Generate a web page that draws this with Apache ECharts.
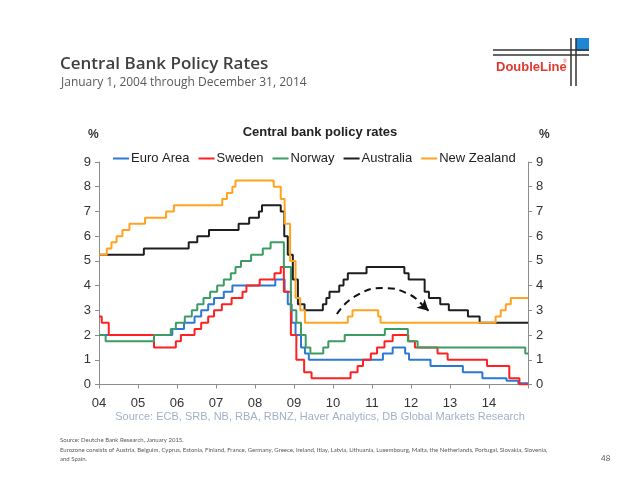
<!DOCTYPE html>
<html><head><meta charset="utf-8">
<script src="https://cdn.jsdelivr.net/npm/echarts@6/dist/echarts.min.js"></script>
<style>html,body{margin:0;padding:0;background:#fff}#c{width:640px;height:495px}</style>
</head><body><div id="c"></div>
<script>
// [date (decimal year) when the rate changed, new policy rate in %]
const euroArea = [[2004.0,2.0],[2005.88,2.25],[2006.18,2.5],[2006.45,2.75],[2006.62,3.0],[2006.8,3.25],[2006.95,3.5],[2007.2,3.75],[2007.42,4.0],[2008.52,4.25],[2008.76,3.75],[2008.84,3.25],[2008.94,2.5],[2009.04,2.0],[2009.18,1.5],[2009.28,1.25],[2009.38,1.0],[2011.28,1.25],[2011.53,1.5],[2011.85,1.25],[2011.95,1.0],[2012.5,0.75],[2013.33,0.5],[2013.83,0.25],[2014.45,0.15],[2014.75,0.05],[2015.0,0.05]];
const sweden = [[2004.0,2.75],[2004.07,2.5],[2004.25,2.0],[2005.41,1.5],[2005.97,1.75],[2006.1,2.0],[2006.45,2.25],[2006.62,2.5],[2006.8,2.75],[2006.95,3.0],[2007.15,3.25],[2007.4,3.5],[2007.68,3.75],[2007.78,4.0],[2008.12,4.25],[2008.5,4.5],[2008.66,4.75],[2008.74,3.75],[2008.92,2.0],[2009.06,1.0],[2009.26,0.5],[2009.45,0.25],[2010.45,0.5],[2010.63,0.75],[2010.77,1.0],[2010.97,1.25],[2011.13,1.5],[2011.32,1.75],[2011.53,2.0],[2011.93,1.75],[2012.1,1.5],[2012.68,1.25],[2012.94,1.0],[2013.95,0.75],[2014.52,0.25],[2014.78,0.0],[2015.0,0.0]];
const norway = [[2004.0,2.0],[2004.17,1.75],[2005.41,2.0],[2005.84,2.25],[2005.97,2.5],[2006.2,2.75],[2006.38,3.0],[2006.52,3.25],[2006.68,3.5],[2006.85,3.75],[2007.03,4.0],[2007.2,4.25],[2007.38,4.5],[2007.5,4.75],[2007.64,5.0],[2007.9,5.25],[2008.2,5.5],[2008.4,5.75],[2008.74,4.75],[2008.92,3.0],[2009.06,2.5],[2009.18,2.0],[2009.3,1.5],[2009.42,1.25],[2009.75,1.5],[2009.88,1.75],[2010.3,2.0],[2011.33,2.25],[2011.92,1.75],[2012.17,1.5],[2014.93,1.25],[2015.0,1.25]];
const australia = [[2004.0,5.25],[2005.15,5.5],[2006.3,5.75],[2006.52,6.0],[2006.82,6.25],[2007.58,6.5],[2007.85,6.75],[2008.1,7.0],[2008.18,7.25],[2008.66,7.0],[2008.75,6.0],[2008.84,5.25],[2008.97,4.25],[2009.1,3.25],[2009.27,3.0],[2009.74,3.25],[2009.83,3.5],[2009.91,3.75],[2010.16,4.0],[2010.27,4.25],[2010.38,4.5],[2010.86,4.75],[2011.83,4.5],[2011.94,4.25],[2012.35,3.75],[2012.46,3.5],[2012.75,3.25],[2012.97,3.0],[2013.46,2.75],[2013.76,2.5],[2015.0,2.5]];
const newZealand = [[2004.0,5.25],[2004.2,5.5],[2004.32,5.75],[2004.45,6.0],[2004.6,6.25],[2004.78,6.5],[2005.18,6.75],[2005.72,7.0],[2005.92,7.25],[2007.16,7.5],[2007.28,7.75],[2007.42,8.0],[2007.5,8.25],[2008.48,8.0],[2008.66,7.5],[2008.76,6.5],[2008.9,5.0],[2009.04,3.5],[2009.16,3.0],[2009.28,2.5],[2010.38,2.75],[2010.5,3.0],[2011.16,2.75],[2011.22,2.5],[2014.17,2.75],[2014.3,3.0],[2014.43,3.25],[2014.56,3.5],[2015.0,3.5]];
const seriesNames = ['Euro Area','Sweden','Norway','Australia','New Zealand'];
const yearTicks = ['04','05','06','07','08','09','10','11','12','13','14'];
// annotation: dashed arc in data units, with arrow tip
const arcPath = [[2010.1,2.85],[2010.55,3.55],[2011.3,3.9],[2011.95,3.65],[2012.3,3.2]];
const arcTip = [[2012.3,3.2],[2012.45,2.98]];

const colors = ['#2b79d4','#ff2121','#3c9c63','#1e1e1e','#ffa321'];
const datasets = [euroArea, sweden, norway, australia, newZealand];

const chart = echarts.init(document.getElementById('c'), null, {renderer:'canvas'});
const axisFont = 'Liberation Sans, Arial, sans-serif';
const lineSeries = datasets.map((d,i)=>({
  name: seriesNames[i], type:'line', step:'end', data:d, symbol:'none',
  lineStyle:{color:colors[i], width:2}, itemStyle:{color:colors[i]},
  z: 3, animation:false
}));
lineSeries.push({
  name:'arc', type:'line', data:arcPath, smooth:true, symbol:'none',
  lineStyle:{color:'#111', width:2, type:[7,5]}, animation:false, z:5,
  markLine:{
    silent:true, animation:false, symbol:['none','arrow'], symbolSize:[9,11],
    label:{show:false}, lineStyle:{color:'#111', width:2, type:'solid'},
    data:[[{coord:arcTip[0]},{coord:arcTip[1]}]]
  }
});

const yAxisCommon = {
  type:'value', min:0, max:9, interval:1,
  axisLine:{show:true, lineStyle:{color:'#8c8c8c', width:1}},
  axisTick:{show:true, length:4, lineStyle:{color:'#8c8c8c'}},
  splitLine:{show:false},
  axisLabel:{color:'#333', fontFamily:axisFont, fontSize:13, margin:8}
};
const foot = {fontFamily:'Lato', fontWeight:'normal', fontSize:6, color:'#595959'};

chart.setOption({
  animation:false,
  backgroundColor:'#fff',
  title:[
    {text:'Central Bank Policy Rates', left:55, top:51, textStyle:{fontFamily:'Open Sans', fontWeight:600, fontSize:17, color:'#404040'}},
    {text:'January 1, 2004 through December 31, 2014', left:56, top:72, textStyle:{fontFamily:'Open Sans', fontWeight:'normal', fontSize:12, color:'#595959'}},
    {text:'Central bank policy rates', left:'center', top:121, textStyle:{fontFamily:axisFont, fontWeight:'bold', fontSize:13, color:'#222'}},
    {text:'%', left:83, top:124, textStyle:{fontFamily:axisFont, fontWeight:'bold', fontSize:12, color:'#333'}},
    {text:'%', left:534, top:124, textStyle:{fontFamily:axisFont, fontWeight:'bold', fontSize:12, color:'#333'}},
    {text:'Source: ECB, SRB, NB, RBA, RBNZ, Haver Analytics, DB Global Markets Research', left:'center', top:406, textStyle:{fontFamily:axisFont, fontWeight:'normal', fontSize:11, color:'#a4b0c6'}},
    {text:'Source: Deutche Bank Research, January 2015.', left:55, top:432, textStyle:foot},
    {text:'Eurozone consists of Austria, Belguim, Cyprus, Estonia, Finland, France, Germany, Greece, Ireland, Itlay, Latvia, Lithuania, Luxembourg, Malta, the Netherlands, Portugal, Slovakia, Slovenia,', left:55, top:442, textStyle:foot},
    {text:'and Spain.', left:55, top:451, textStyle:foot},
    {text:'48', left:596, top:449, textStyle:{fontFamily:'Lato', fontWeight:'normal', fontSize:8, color:'#595959'}}
  ],
  legend:{
    data:seriesNames, top:147, left:108, icon:'rect', itemWidth:16, itemHeight:2, itemGap:9,
    textStyle:{fontFamily:axisFont, fontSize:13, color:'#222', padding:[0,0,0,-3]}
  },
  grid:{left:99, right:112, top:162, bottom:110.5, containLabel:false},
  xAxis:{
    type:'value', min:2004, max:2015, interval:1,
    axisLine:{show:true, onZero:false, lineStyle:{color:'#8c8c8c'}},
    axisTick:{show:true, length:4, lineStyle:{color:'#8c8c8c'}},
    splitLine:{show:false},
    axisLabel:{color:'#333', fontFamily:axisFont, fontSize:13, margin:12,
      formatter:v=>{const i=Math.round(v-2004); return i<yearTicks.length ? yearTicks[i] : '';}}
  },
  yAxis:[Object.assign({position:'left'}, yAxisCommon), Object.assign({position:'right'}, yAxisCommon)],
  graphic:[
    {type:'rect', shape:{x:576, y:38, width:13, height:13}, style:{fill:'#1f86d6'}},
    {type:'line', shape:{x1:493, y1:50, x2:589, y2:50}, style:{stroke:'#333', lineWidth:1.5}},
    {type:'line', shape:{x1:493, y1:55, x2:589, y2:55}, style:{stroke:'#333', lineWidth:1.5}},
    {type:'line', shape:{x1:571, y1:38, x2:571, y2:86}, style:{stroke:'#333', lineWidth:1.5}},
    {type:'line', shape:{x1:576, y1:38, x2:576, y2:86}, style:{stroke:'#333', lineWidth:1.5}},
    {type:'text', x:496, y:61, style:{text:'DoubleLine', fill:'#e03a2f', font:'bold 13px "Liberation Sans", Arial'}},
    {type:'text', x:563, y:59, style:{text:'®', fill:'#e03a2f', font:'5px "Liberation Sans", Arial'}}
  ],
  series:lineSeries
});
</script></body></html>
